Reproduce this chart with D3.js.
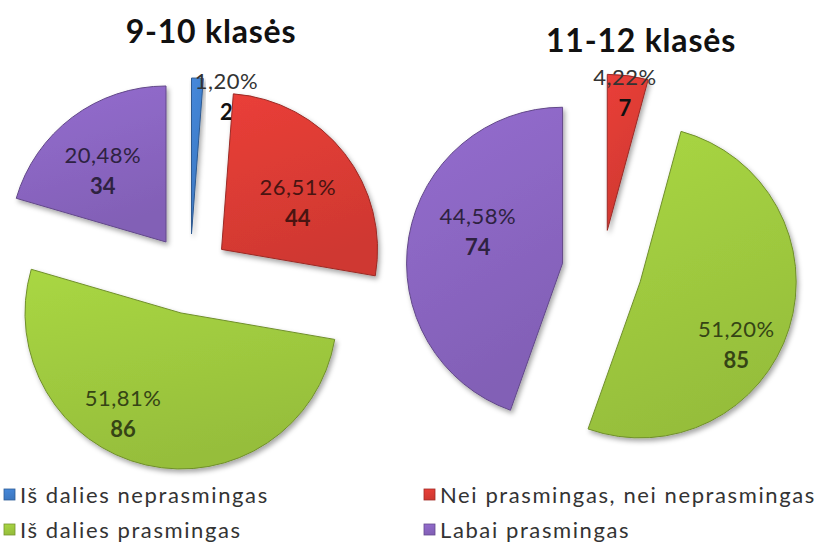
<!DOCTYPE html>
<html>
<head>
<meta charset="utf-8">
<script src="https://cdn.jsdelivr.net/npm/d3@7"></script>
<style>
  body { margin: 0; background: #fff; }
  svg { display: block; font-family: Lato, "Open Sans", sans-serif; }
</style>
</head>
<body>
<svg id="canvas"></svg>
<script>
// data
const categories = ["Iš dalies neprasmingas", "Nei prasmingas, nei neprasmingas", "Iš dalies prasmingas", "Labai prasmingas"];
const counts910 = [2, 44, 86, 34];
const counts1112 = [0, 7, 85, 74];
const titles = ["9-10 klasės", "11-12 klasės"];
const colors = ["#3f7cc8", "#d63a33", "#9bc53d", "#8763bd"];

var width = 824, height = 545;
var radius = 156, explode = 40;

let canvas = d3.select('#canvas')
    .attr('width', width)
    .attr('height', height);

let defs = canvas.append('defs');

defs.append('filter')
    .attr('id', 'shadow')
    .attr('x', '-20%').attr('y', '-20%')
    .attr('width', '140%').attr('height', '140%')
    .append('feDropShadow')
    .attr('dx', 2).attr('dy', 3)
    .attr('stdDeviation', 2.5)
    .attr('flood-color', '#000')
    .attr('flood-opacity', 0.35);

colors.forEach(function(c, i) {
    var g = defs.append('linearGradient')
        .attr('id', 'grad' + i)
        .attr('x1', 0).attr('y1', 0).attr('x2', 0.3).attr('y2', 1);
    g.append('stop').attr('offset', '0%').attr('stop-color', d3.color(c).brighter(0.25));
    g.append('stop').attr('offset', '100%').attr('stop-color', d3.color(c).darker(0.1));
});

// layout of the two pies (label nudges: [angle offset in degrees, fraction of radius])
let charts = [
    {title: titles[0], counts: counts910, cx: 190, cy: 274, tx: 211, ty: 43,
     nudge: [[11.4, 0.955], [2.6, 0.60], [19, 0.70], [-1.7, 0.65]]},
    {title: titles[1], counts: counts1112, cx: 602, cy: 270, tx: 641, ty: 52,
     nudge: [[0, 0], [-0.7, 0.94], [12.5, 0.71], [15.2, 0.60]]}
];

var pie = d3.pie().sort(null).value(function(d) { return d; });
var arc = d3.arc().innerRadius(0).outerRadius(radius);
var fmt = d3.format(".2f");

function polar(angle, r) {
    return [Math.sin(angle) * r, -Math.cos(angle) * r];
}

function drawPie(chart) {
    var total = d3.sum(chart.counts);
    var arcs = pie(chart.counts);
    var g = canvas.append('g')
        .attr('transform', 'translate(' + chart.cx + ',' + chart.cy + ')');

    var slices = g.selectAll('.slice')
        .data(arcs.filter(function(d) { return d.value > 0; }))
        .enter()
        .append('g')
        .attr('class', 'slice')
        .attr('transform', function(d) {
            var p = polar((d.startAngle + d.endAngle) / 2, explode);
            return 'translate(' + p[0] + ',' + p[1] + ')';
        });

    slices.append('path')
        .attr('d', arc)
        .attr('fill', function(d) { return 'url(#grad' + d.index + ')'; })
        .attr('stroke', function(d) { return d3.color(colors[d.index]).darker(0.9); })
        .attr('stroke-width', 1)
        .attr('stroke-linejoin', 'round')
        .attr('filter', 'url(#shadow)');

    slices.each(function(d) {
        var n = chart.nudge[d.index];
        var mid = (d.startAngle + d.endAngle) / 2 + n[0] * Math.PI / 180;
        var p = polar(mid, radius * n[1]);
        var outside = n[1] > 0.9;
        var dark = d3.color(colors[d.index]).darker(3);
        var s = d3.select(this);
        s.append('text')
            .attr('x', p[0]).attr('y', p[1])
            .attr('text-anchor', 'middle')
            .attr('font-size', 22)
            .attr('letter-spacing', 0.5)
            .attr('fill', outside ? '#333' : dark)
            .text(fmt(d.value / total * 100).replace('.', ',') + '%');
        s.append('text')
            .attr('x', p[0]).attr('y', p[1] + 31)
            .attr('text-anchor', 'middle')
            .attr('font-size', 22)
            .attr('font-weight', 'bold')
            .attr('fill', outside ? '#111' : dark)
            .text(d.value);
    });

    canvas.append('text')
        .attr('x', chart.tx).attr('y', chart.ty)
        .attr('text-anchor', 'middle')
        .attr('font-size', 32)
        .attr('letter-spacing', 0.8)
        .attr('font-weight', 'bold')
        .attr('fill', '#111')
        .text(chart.title);
}

charts.forEach(drawPie);

// legend
var legendX = [4, 424], legendY = [503, 538];
var legend = canvas.selectAll('.legend')
    .data(categories)
    .enter()
    .append('g')
    .attr('class', 'legend')
    .attr('transform', function(d, i) {
        return 'translate(' + legendX[i % 2] + ',' + legendY[Math.floor(i / 2)] + ')';
    });

legend.append('rect')
    .attr('x', 0).attr('y', -14)
    .attr('width', 11).attr('height', 11)
    .attr('fill', function(d, i) { return 'url(#grad' + i + ')'; })
    .attr('stroke', function(d, i) { return d3.color(colors[i]).darker(0.8); })
    .attr('stroke-width', 0.8);

legend.append('text')
    .attr('x', 16).attr('y', 0)
    .attr('font-size', 22)
    .attr('letter-spacing', 1.6)
    .attr('fill', '#333')
    .text(function(d) { return d; });
</script>
</body>
</html>
